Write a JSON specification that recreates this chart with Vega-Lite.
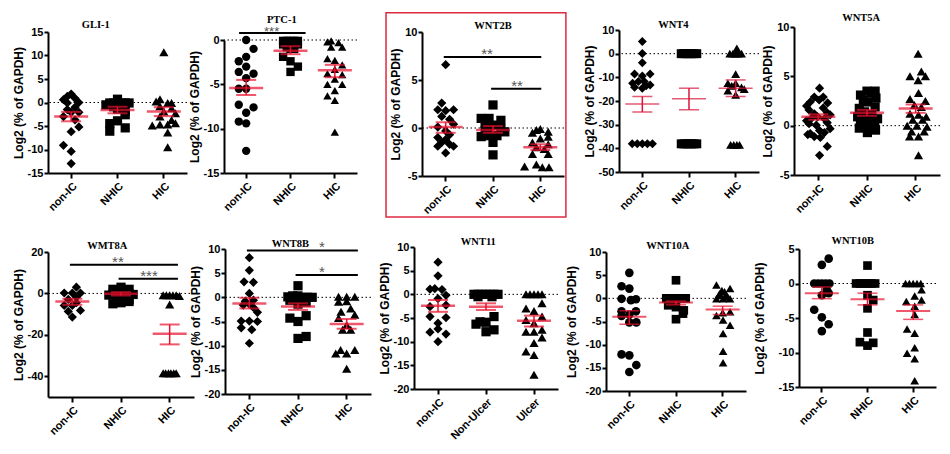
{
"$schema": "https://vega.github.io/schema/vega-lite/v6.json",
"background": "white",
"padding": {"left": 12, "top": 12, "right": 0, "bottom": 0},
"config": {
  "view": {"stroke": null},
  "axis": {"grid": false, "domainColor": "black", "domainWidth": 2, "tickColor": "black", "tickWidth": 2, "tickSize": 4, "labelColor": "black", "labelFont": "Liberation Sans", "labelFontSize": 11, "labelFontWeight": "bold", "labelPadding": 1, "titleColor": "black", "titleFont": "Liberation Sans", "titleFontSize": 12, "titleFontWeight": "bold", "titlePadding": 2, "labelOverlap": false},
  "axisX": {"labelAngle": -45, "labelAlign": "right", "labelBaseline": "top", "labelPadding": 2, "tickSize": 5, "bandPosition": 0.5},
  "axisY": {"labelExpr": "datum.value + ''", "labelOverlap": false, "labelFlush": false},
  "title": {"font": "Liberation Serif", "fontSize": 10.5, "fontWeight": "bold", "color": "black", "frame": "bounds", "anchor": "middle", "offset": 3}
},
"datasets": {
  "GLI1": [
    {"g":"non-IC","v":1.8,"s":0},{"g":"non-IC","v":1.3,"s":-1},{"g":"non-IC","v":0.9,"s":1},{"g":"non-IC","v":0.6,"s":-2},{"g":"non-IC","v":0,"s":2},{"g":"non-IC","v":-0.1,"s":-1},{"g":"non-IC","v":-1,"s":1},{"g":"non-IC","v":-1.5,"s":-1},{"g":"non-IC","v":-2.1,"s":0},{"g":"non-IC","v":-2.1,"s":2},{"g":"non-IC","v":-3,"s":-2},{"g":"non-IC","v":-3.7,"s":1},{"g":"non-IC","v":-5.2,"s":2},{"g":"non-IC","v":-6.2,"s":0},{"g":"non-IC","v":-9.1,"s":-2},{"g":"non-IC","v":-10.4,"s":0},{"g":"non-IC","v":-13,"s":0},
    {"g":"NHIC","v":0.7,"s":0},{"g":"NHIC","v":-0.1,"s":-2},{"g":"NHIC","v":-0.1,"s":-1},{"g":"NHIC","v":-0.1,"s":0},{"g":"NHIC","v":-0.1,"s":1},{"g":"NHIC","v":-0.1,"s":2},{"g":"NHIC","v":-0.1,"s":3},{"g":"NHIC","v":-0.5,"s":-3},{"g":"NHIC","v":-0.9,"s":-1},{"g":"NHIC","v":-0.9,"s":1},{"g":"NHIC","v":-1.4,"s":0},{"g":"NHIC","v":-1.9,"s":2},{"g":"NHIC","v":-2.6,"s":2},{"g":"NHIC","v":-3.9,"s":0},{"g":"NHIC","v":-4.5,"s":-2},{"g":"NHIC","v":-5.4,"s":2},{"g":"NHIC","v":-6.1,"s":-2},
    {"g":"HIC","v":10.7,"s":0},{"g":"HIC","v":0.7,"s":-1},{"g":"HIC","v":0.2,"s":-2},{"g":"HIC","v":-0.1,"s":1},{"g":"HIC","v":-0.1,"s":2},{"g":"HIC","v":-0.8,"s":-1},{"g":"HIC","v":-1.2,"s":2},{"g":"HIC","v":-1.9,"s":0},{"g":"HIC","v":-2.3,"s":3},{"g":"HIC","v":-3,"s":-1},{"g":"HIC","v":-3.7,"s":2},{"g":"HIC","v":-4.7,"s":-1},{"g":"HIC","v":-4.7,"s":1},{"g":"HIC","v":-4.9,"s":-3},{"g":"HIC","v":-4.4,"s":3},{"g":"HIC","v":-6.4,"s":1},{"g":"HIC","v":-9.5,"s":1}
  ],
  "GLI1_st": [{"g":"non-IC","mean":-3.0,"lo":-4.0,"hi":-2.0},{"g":"NHIC","mean":-1.6,"lo":-2.3,"hi":-0.9},{"g":"HIC","mean":-1.9,"lo":-2.9,"hi":-1.0}],
  "PTC1": [
    {"g":"non-IC","v":0,"s":0},{"g":"non-IC","v":-1.0,"s":2},{"g":"non-IC","v":-1.9,"s":0},{"g":"non-IC","v":-2.4,"s":-2},{"g":"non-IC","v":-3.0,"s":0},{"g":"non-IC","v":-3.6,"s":-2},{"g":"non-IC","v":-3.8,"s":2},{"g":"non-IC","v":-4.3,"s":0},{"g":"non-IC","v":-5.5,"s":-2},{"g":"non-IC","v":-5.5,"s":0},{"g":"non-IC","v":-7.3,"s":-2},{"g":"non-IC","v":-7.6,"s":2},{"g":"non-IC","v":-8.2,"s":0},{"g":"non-IC","v":-9.2,"s":-2},{"g":"non-IC","v":-9.4,"s":0},{"g":"non-IC","v":-12.5,"s":0},
    {"g":"NHIC","v":-0.1,"s":-2},{"g":"NHIC","v":-0.1,"s":-1},{"g":"NHIC","v":-0.1,"s":0},{"g":"NHIC","v":-0.1,"s":1},{"g":"NHIC","v":-0.1,"s":2},{"g":"NHIC","v":-0.5,"s":-2},{"g":"NHIC","v":-0.5,"s":-1},{"g":"NHIC","v":-0.5,"s":1},{"g":"NHIC","v":-0.5,"s":2},{"g":"NHIC","v":-1.0,"s":0},{"g":"NHIC","v":-1.0,"s":1},{"g":"NHIC","v":-0.8,"s":-1},{"g":"NHIC","v":-1.9,"s":-2},{"g":"NHIC","v":-2.4,"s":0},{"g":"NHIC","v":-3.0,"s":2},{"g":"NHIC","v":-3.6,"s":0},
    {"g":"HIC","v":-0.1,"s":-1},{"g":"HIC","v":-0.2,"s":-2},{"g":"HIC","v":-0.3,"s":1},{"g":"HIC","v":-0.8,"s":-1},{"g":"HIC","v":-0.8,"s":2},{"g":"HIC","v":-2.1,"s":-2},{"g":"HIC","v":-2.3,"s":0},{"g":"HIC","v":-2.8,"s":2},{"g":"HIC","v":-3.3,"s":0},{"g":"HIC","v":-3.8,"s":-2},{"g":"HIC","v":-3.9,"s":2},{"g":"HIC","v":-4.4,"s":0},{"g":"HIC","v":-5.0,"s":-2},{"g":"HIC","v":-5.0,"s":2},{"g":"HIC","v":-5.7,"s":0},{"g":"HIC","v":-6.3,"s":-2},{"g":"HIC","v":-6.8,"s":0},{"g":"HIC","v":-10.4,"s":0}
  ],
  "PTC1_st": [{"g":"non-IC","mean":-5.4,"lo":-6.2,"hi":-4.5},{"g":"NHIC","mean":-1.2,"lo":-1.6,"hi":-0.7},{"g":"HIC","mean":-3.4,"lo":-4.2,"hi":-2.8}],
  "PTC1_sig": [{"from":"non-IC","to":"NHIC","y":0.8,"label":"***","at":"NHIC","off":-5.1}],
  "WNT2B": [
    {"g":"non-IC","v":6.6,"s":0},{"g":"non-IC","v":2.6,"s":-1},{"g":"non-IC","v":1.9,"s":-2},{"g":"non-IC","v":1.8,"s":0},{"g":"non-IC","v":1.9,"s":2},{"g":"non-IC","v":1.2,"s":-1},{"g":"non-IC","v":0.9,"s":1},{"g":"non-IC","v":0.4,"s":2},{"g":"non-IC","v":0.1,"s":-2},{"g":"non-IC","v":-0.3,"s":0},{"g":"non-IC","v":-0.7,"s":1},{"g":"non-IC","v":-1.0,"s":-2},{"g":"non-IC","v":-1.2,"s":0},{"g":"non-IC","v":-1.5,"s":-1},{"g":"non-IC","v":-1.9,"s":-2},{"g":"non-IC","v":-1.7,"s":1},{"g":"non-IC","v":-1.9,"s":2},{"g":"non-IC","v":-2.6,"s":0},
    {"g":"NHIC","v":2.4,"s":0},{"g":"NHIC","v":1.0,"s":-3},{"g":"NHIC","v":1.0,"s":-1},{"g":"NHIC","v":0.8,"s":2},{"g":"NHIC","v":0.45,"s":-2},{"g":"NHIC","v":0.3,"s":1},{"g":"NHIC","v":0.1,"s":-1},{"g":"NHIC","v":-0.1,"s":2},{"g":"NHIC","v":-0.3,"s":-2},{"g":"NHIC","v":-0.4,"s":3},{"g":"NHIC","v":-0.8,"s":-1},{"g":"NHIC","v":-0.8,"s":1},{"g":"NHIC","v":-0.9,"s":-3},{"g":"NHIC","v":-1.5,"s":0},{"g":"NHIC","v":-2.8,"s":0},
    {"g":"HIC","v":-0.1,"s":0},{"g":"HIC","v":-0.2,"s":-1},{"g":"HIC","v":-0.5,"s":-2},{"g":"HIC","v":-0.4,"s":2},{"g":"HIC","v":-0.9,"s":2},{"g":"HIC","v":-1.1,"s":0},{"g":"HIC","v":-1.5,"s":-2},{"g":"HIC","v":-1.7,"s":2},{"g":"HIC","v":-2.0,"s":-1},{"g":"HIC","v":-2.2,"s":1},{"g":"HIC","v":-2.7,"s":-2},{"g":"HIC","v":-2.7,"s":2},{"g":"HIC","v":-4.0,"s":-4},{"g":"HIC","v":-3.8,"s":-1},{"g":"HIC","v":-4.1,"s":0.5},{"g":"HIC","v":-4.1,"s":2.2}
  ],
  "WNT2B_st": [{"g":"non-IC","mean":0.1,"lo":-0.5,"hi":0.6},{"g":"NHIC","mean":-0.2,"lo":-0.5,"hi":0.2},{"g":"HIC","mean":-2.0,"lo":-2.3,"hi":-1.7}],
  "WNT2B_sig": [{"from":"non-IC","to":"HIC","y":7.4,"label":"**","at":"NHIC","off":-1.5},{"from":"NHIC","to":"HIC","y":4.1,"label":"**","at":"NHIC","off":6.1}],
  "WNT4": [
    {"g":"non-IC","v":5.1,"s":0},{"g":"non-IC","v":0.1,"s":0},{"g":"non-IC","v":-3.8,"s":0},{"g":"non-IC","v":-8.6,"s":-2},{"g":"non-IC","v":-8.6,"s":2},{"g":"non-IC","v":-9.4,"s":0},{"g":"non-IC","v":-12.5,"s":-2.5},{"g":"non-IC","v":-11.8,"s":-1},{"g":"non-IC","v":-11.8,"s":0.5},{"g":"non-IC","v":-13.2,"s":2},{"g":"non-IC","v":-14.2,"s":-2},{"g":"non-IC","v":-14.6,"s":0},{"g":"non-IC","v":-13.6,"s":1},{"g":"non-IC","v":-38.1,"s":-2.6},{"g":"non-IC","v":-38.1,"s":-1.3},{"g":"non-IC","v":-38.1,"s":0},{"g":"non-IC","v":-38.1,"s":1.3},{"g":"non-IC","v":-38.1,"s":2.6},
    {"g":"NHIC","v":0,"s":-2},{"g":"NHIC","v":0,"s":-1.3},{"g":"NHIC","v":0,"s":-0.6},{"g":"NHIC","v":0,"s":0},{"g":"NHIC","v":0,"s":0.6},{"g":"NHIC","v":0,"s":1.3},{"g":"NHIC","v":0,"s":2},
    {"g":"NHIC","v":-38.1,"s":-2},{"g":"NHIC","v":-38.1,"s":-1.3},{"g":"NHIC","v":-38.1,"s":-0.6},{"g":"NHIC","v":-38.1,"s":0},{"g":"NHIC","v":-38.1,"s":0.6},{"g":"NHIC","v":-38.1,"s":1.3},{"g":"NHIC","v":-38.1,"s":2},
    {"g":"HIC","v":0,"s":-1.5},{"g":"HIC","v":0,"s":-0.7},{"g":"HIC","v":0,"s":0},{"g":"HIC","v":0,"s":0.7},{"g":"HIC","v":0,"s":1.5},{"g":"HIC","v":2.2,"s":0.3},{"g":"HIC","v":-8.6,"s":0},{"g":"HIC","v":-12.5,"s":-2},{"g":"HIC","v":-12.5,"s":0},{"g":"HIC","v":-13.6,"s":-1},{"g":"HIC","v":-14.2,"s":1.5},{"g":"HIC","v":-15,"s":2.2},{"g":"HIC","v":-15.6,"s":-2},{"g":"HIC","v":-17.4,"s":0},{"g":"HIC","v":-38.5,"s":-1.3},{"g":"HIC","v":-38.5,"s":-0.5},{"g":"HIC","v":-38.5,"s":0.3},{"g":"HIC","v":-38.5,"s":1}
  ],
  "WNT4_st": [{"g":"non-IC","mean":-21.3,"lo":-24.7,"hi":-18.1},{"g":"NHIC","mean":-19.1,"lo":-23.7,"hi":-14.6},{"g":"HIC","mean":-14.6,"lo":-18.1,"hi":-11.1}],
  "WNT5A": [
    {"g":"non-IC","v":3.8,"s":0.3},{"g":"non-IC","v":2.9,"s":-1},{"g":"non-IC","v":2.9,"s":1.2},{"g":"non-IC","v":2.4,"s":-2},{"g":"non-IC","v":2.3,"s":2.3},{"g":"non-IC","v":2.6,"s":0.2},{"g":"non-IC","v":1.6,"s":-2.3},{"g":"non-IC","v":1.8,"s":1.2},{"g":"non-IC","v":1.2,"s":-1},{"g":"non-IC","v":1.3,"s":2.2},{"g":"non-IC","v":0.7,"s":-1.8},{"g":"non-IC","v":0.9,"s":-0.2},{"g":"non-IC","v":0.7,"s":1.5},{"g":"non-IC","v":0.2,"s":-2.3},{"g":"non-IC","v":0.05,"s":-0.5},{"g":"non-IC","v":0.3,"s":2.2},{"g":"non-IC","v":-0.8,"s":-2},{"g":"non-IC","v":-0.5,"s":0.3},{"g":"non-IC","v":-0.7,"s":1.5},{"g":"non-IC","v":-1.1,"s":-1},{"g":"non-IC","v":-0.9,"s":-2.6},{"g":"non-IC","v":-1.2,"s":0.5},{"g":"non-IC","v":-2.1,"s":2.2},{"g":"non-IC","v":-3.0,"s":0.3},{"g":"non-IC","v":1.1,"s":2.9},{"g":"non-IC","v":0.5,"s":-2.9},{"g":"non-IC","v":-0.3,"s":2.9},{"g":"non-IC","v":2.0,"s":-2.9},
    {"g":"NHIC","v":3.5,"s":0},{"g":"NHIC","v":3.5,"s":2},{"g":"NHIC","v":3.1,"s":-1.6},{"g":"NHIC","v":2.8,"s":2.2},{"g":"NHIC","v":2.6,"s":-0.9},{"g":"NHIC","v":2.4,"s":0.1},{"g":"NHIC","v":1.75,"s":-1.9},{"g":"NHIC","v":1.9,"s":2},{"g":"NHIC","v":1.4,"s":-0.6},{"g":"NHIC","v":1.1,"s":1.2},{"g":"NHIC","v":0.9,"s":-2.3},{"g":"NHIC","v":0.7,"s":-0.9},{"g":"NHIC","v":0.7,"s":2.6},{"g":"NHIC","v":0.6,"s":0.8},{"g":"NHIC","v":0.25,"s":-1.6},{"g":"NHIC","v":0.1,"s":0.1},{"g":"NHIC","v":0.1,"s":1.9},{"g":"NHIC","v":-0.25,"s":-1.9},{"g":"NHIC","v":-0.45,"s":2.1},{"g":"NHIC","v":-0.7,"s":0.1},{"g":"NHIC","v":-0.3,"s":1.2},{"g":"NHIC","v":3.3,"s":1.1},
    {"g":"HIC","v":7.3,"s":0.6},{"g":"HIC","v":5.0,"s":-1.4},{"g":"HIC","v":5.5,"s":1.4},{"g":"HIC","v":5.0,"s":2.4},{"g":"HIC","v":4.6,"s":0.6},{"g":"HIC","v":3.3,"s":0.7},{"g":"HIC","v":2.7,"s":-1.4},{"g":"HIC","v":2.5,"s":2.4},{"g":"HIC","v":2.1,"s":-0.3},{"g":"HIC","v":1.9,"s":1.4},{"g":"HIC","v":1.2,"s":-1.4},{"g":"HIC","v":1.1,"s":0.7},{"g":"HIC","v":0.9,"s":2.6},{"g":"HIC","v":0.6,"s":-0.7},{"g":"HIC","v":0.6,"s":1.7},{"g":"HIC","v":0,"s":-2.1},{"g":"HIC","v":0,"s":0.3},{"g":"HIC","v":-0.1,"s":2.8},{"g":"HIC","v":-0.6,"s":-1},{"g":"HIC","v":-0.6,"s":2.1},{"g":"HIC","v":-1.1,"s":-1.5},{"g":"HIC","v":-1.1,"s":0.7},{"g":"HIC","v":-3.0,"s":0.7}
  ],
  "WNT5A_st": [{"g":"non-IC","mean":0.9,"lo":0.6,"hi":1.15},{"g":"NHIC","mean":1.3,"lo":1.0,"hi":1.6},{"g":"HIC","mean":1.75,"lo":1.3,"hi":2.15}],
  "WMT8A": [
    {"g":"non-IC","v":3.0,"s":1},{"g":"non-IC","v":0.2,"s":-2},{"g":"non-IC","v":0.2,"s":0},{"g":"non-IC","v":0.2,"s":2},{"g":"non-IC","v":-2.9,"s":-1},{"g":"non-IC","v":-1.8,"s":1},{"g":"non-IC","v":-5.8,"s":-2},{"g":"non-IC","v":-5.8,"s":0},{"g":"non-IC","v":-4.5,"s":1},{"g":"non-IC","v":-8.7,"s":-1},{"g":"non-IC","v":-8.2,"s":2},{"g":"non-IC","v":-11.4,"s":0},
    {"g":"NHIC","v":3,"s":0},{"g":"NHIC","v":2,"s":-2},{"g":"NHIC","v":2,"s":2},{"g":"NHIC","v":-0.2,"s":-2},{"g":"NHIC","v":0.5,"s":-1},{"g":"NHIC","v":0.5,"s":1},{"g":"NHIC","v":-0.2,"s":2},{"g":"NHIC","v":-1.8,"s":-1},{"g":"NHIC","v":-1.3,"s":0},{"g":"NHIC","v":-2.9,"s":2},{"g":"NHIC","v":-5,"s":-2},{"g":"NHIC","v":-4.5,"s":0},{"g":"NHIC","v":-3.9,"s":2},{"g":"NHIC","v":-0.8,"s":-3},{"g":"NHIC","v":-0.5,"s":3},
    {"g":"HIC","v":-0.9,"s":-1.6},{"g":"HIC","v":-0.9,"s":-0.8},{"g":"HIC","v":-0.9,"s":0},{"g":"HIC","v":-0.9,"s":0.8},{"g":"HIC","v":-0.9,"s":1.6},{"g":"HIC","v":-1.2,"s":2.4},{"g":"HIC","v":-5.3,"s":0},{"g":"HIC","v":-38.5,"s":-1.6},{"g":"HIC","v":-38.5,"s":-1},{"g":"HIC","v":-38.5,"s":-0.3},{"g":"HIC","v":-38.5,"s":0.3},{"g":"HIC","v":-38.5,"s":1},{"g":"HIC","v":-38.5,"s":1.6}
  ],
  "WMT8A_st": [{"g":"non-IC","mean":-3.9,"lo":-5.5,"hi":-2.6},{"g":"NHIC","mean":-0.2,"lo":-1.0,"hi":0.6},{"g":"HIC","mean":-19.5,"lo":-24.6,"hi":-15}],
  "WMT8A_sig": [{"from":"non-IC","to":"HIC","y":13.9,"label":"**","at":"NHIC","off":-0.75},{"from":"NHIC","to":"HIC","y":7.1,"label":"***","at":"NHIC","off":6.9}],
  "WNT8B": [
    {"g":"non-IC","v":8.2,"s":0},{"g":"non-IC","v":5.6,"s":0},{"g":"non-IC","v":3.2,"s":-1.3},{"g":"non-IC","v":3.1,"s":1},{"g":"non-IC","v":0.8,"s":0},{"g":"non-IC","v":-0.8,"s":-1},{"g":"non-IC","v":-0.6,"s":1},{"g":"non-IC","v":-1.6,"s":-1.5},{"g":"non-IC","v":-1.4,"s":0},{"g":"non-IC","v":-2.1,"s":1},{"g":"non-IC","v":-3.1,"s":2},{"g":"non-IC","v":-4.9,"s":-2},{"g":"non-IC","v":-4.9,"s":0},{"g":"non-IC","v":-5.0,"s":2},{"g":"non-IC","v":-6.3,"s":-2},{"g":"non-IC","v":-6.7,"s":0.6},{"g":"non-IC","v":-9.5,"s":0},
    {"g":"NHIC","v":2.4,"s":0},{"g":"NHIC","v":0.1,"s":-2.5},{"g":"NHIC","v":0.3,"s":-1.3},{"g":"NHIC","v":0.3,"s":0},{"g":"NHIC","v":0,"s":1.2},{"g":"NHIC","v":0,"s":2.4},{"g":"NHIC","v":0,"s":3.5},{"g":"NHIC","v":-0.6,"s":-2},{"g":"NHIC","v":-0.6,"s":1},{"g":"NHIC","v":-1.4,"s":0},{"g":"NHIC","v":-1.0,"s":2},{"g":"NHIC","v":-4.3,"s":-2},{"g":"NHIC","v":-3.8,"s":2},{"g":"NHIC","v":-5.0,"s":0},{"g":"NHIC","v":-8.5,"s":0},{"g":"NHIC","v":-8.1,"s":2},
    {"g":"HIC","v":0.1,"s":-2},{"g":"HIC","v":0.1,"s":0},{"g":"HIC","v":0.1,"s":2},{"g":"HIC","v":-0.9,"s":-2},{"g":"HIC","v":-0.8,"s":0},{"g":"HIC","v":-2.3,"s":1},{"g":"HIC","v":-3,"s":-1.4},{"g":"HIC","v":-3.6,"s":2},{"g":"HIC","v":-4.3,"s":-2},{"g":"HIC","v":-5.7,"s":0},{"g":"HIC","v":-6.7,"s":-1},{"g":"HIC","v":-6.7,"s":1},{"g":"HIC","v":-10.9,"s":-1.5},{"g":"HIC","v":-11.6,"s":-2.7},{"g":"HIC","v":-11.6,"s":0},{"g":"HIC","v":-10.9,"s":2},{"g":"HIC","v":-14.8,"s":0}
  ],
  "WNT8B_st": [{"g":"non-IC","mean":-1.25,"lo":-2.3,"hi":-0.1},{"g":"NHIC","mean":-1.9,"lo":-2.6,"hi":-1.25},{"g":"HIC","mean":-5.5,"lo":-6.5,"hi":-4.5}],
  "WNT8B_sig": [{"from":"non-IC","to":"HIC","y":9.7,"label":"*","at":"NHIC","off":5.9},{"from":"NHIC","to":"HIC","y":4.6,"label":"*","at":"NHIC","off":5.9}],
  "WNT11": [
    {"g":"non-IC","v":6.8,"s":0},{"g":"non-IC","v":3.9,"s":0},{"g":"non-IC","v":1.1,"s":-2},{"g":"non-IC","v":1.2,"s":-0.8},{"g":"non-IC","v":1.0,"s":1},{"g":"non-IC","v":-0.2,"s":2},{"g":"non-IC","v":-0.9,"s":0},{"g":"non-IC","v":-2.6,"s":-2},{"g":"non-IC","v":-2.3,"s":2},{"g":"non-IC","v":-4.7,"s":-2},{"g":"non-IC","v":-4.9,"s":2},{"g":"non-IC","v":-6.1,"s":0},{"g":"non-IC","v":-7.3,"s":0},{"g":"non-IC","v":-8.0,"s":-2},{"g":"non-IC","v":-8.4,"s":2},{"g":"non-IC","v":-10.0,"s":0},
    {"g":"Non-Ulcer","v":0,"s":-3},{"g":"Non-Ulcer","v":0,"s":-2},{"g":"Non-Ulcer","v":0,"s":-1},{"g":"Non-Ulcer","v":0,"s":0},{"g":"Non-Ulcer","v":0,"s":1},{"g":"Non-Ulcer","v":0,"s":2},{"g":"Non-Ulcer","v":0,"s":3},{"g":"Non-Ulcer","v":-0.5,"s":-2},{"g":"Non-Ulcer","v":-0.5,"s":1.5},{"g":"Non-Ulcer","v":-4.7,"s":2},{"g":"Non-Ulcer","v":-5.8,"s":-1.5},{"g":"Non-Ulcer","v":-6.3,"s":-2.5},{"g":"Non-Ulcer","v":-5.9,"s":0},{"g":"Non-Ulcer","v":-7.9,"s":0},{"g":"Non-Ulcer","v":-7.5,"s":2},
    {"g":"Ulcer","v":0,"s":-2},{"g":"Ulcer","v":0,"s":-1},{"g":"Ulcer","v":0,"s":0},{"g":"Ulcer","v":0,"s":1},{"g":"Ulcer","v":0,"s":2},{"g":"Ulcer","v":-1.9,"s":2},{"g":"Ulcer","v":-3.0,"s":-2},{"g":"Ulcer","v":-3.5,"s":0},{"g":"Ulcer","v":-4.7,"s":2},{"g":"Ulcer","v":-5.4,"s":-2},{"g":"Ulcer","v":-6.1,"s":0},{"g":"Ulcer","v":-7.9,"s":-2},{"g":"Ulcer","v":-7.9,"s":0},{"g":"Ulcer","v":-7.5,"s":2},{"g":"Ulcer","v":-9.1,"s":2},{"g":"Ulcer","v":-10.3,"s":0},{"g":"Ulcer","v":-12.1,"s":-2},{"g":"Ulcer","v":-12.8,"s":0},{"g":"Ulcer","v":-17.0,"s":0}
  ],
  "WNT11_st": [{"g":"non-IC","mean":-2.4,"lo":-3.7,"hi":-1.2},{"g":"Non-Ulcer","mean":-2.6,"lo":-3.3,"hi":-1.9},{"g":"Ulcer","mean":-5.6,"lo":-6.8,"hi":-4.5}],
  "WNT10A": [
    {"g":"non-IC","v":5.5,"s":0},{"g":"non-IC","v":2.6,"s":-2},{"g":"non-IC","v":2.1,"s":0},{"g":"non-IC","v":-0.1,"s":-2},{"g":"non-IC","v":-0.4,"s":0.4},{"g":"non-IC","v":-0.2,"s":1.7},{"g":"non-IC","v":-2.8,"s":-2},{"g":"non-IC","v":-2.8,"s":1.7},{"g":"non-IC","v":-3.8,"s":-2},{"g":"non-IC","v":-3.5,"s":0},{"g":"non-IC","v":-5.2,"s":0},{"g":"non-IC","v":-5.2,"s":1.8},{"g":"non-IC","v":-12.1,"s":-2},{"g":"non-IC","v":-12.3,"s":0},{"g":"non-IC","v":-14.4,"s":1.8},{"g":"non-IC","v":-15.9,"s":0},
    {"g":"NHIC","v":3.9,"s":0},{"g":"NHIC","v":0,"s":-2.5},{"g":"NHIC","v":0,"s":-1.5},{"g":"NHIC","v":0,"s":-0.5},{"g":"NHIC","v":0,"s":0.5},{"g":"NHIC","v":0,"s":1.5},{"g":"NHIC","v":0,"s":2.5},{"g":"NHIC","v":-1.5,"s":-2},{"g":"NHIC","v":-1.9,"s":0},{"g":"NHIC","v":-2.6,"s":2},{"g":"NHIC","v":-3.3,"s":1.8},{"g":"NHIC","v":-4.5,"s":0},
    {"g":"HIC","v":2.9,"s":-1.6},{"g":"HIC","v":2.1,"s":1.9},{"g":"HIC","v":1.7,"s":-0.2},{"g":"HIC","v":1.4,"s":0.5},{"g":"HIC","v":1.0,"s":-0.8},{"g":"HIC","v":0.6,"s":-1},{"g":"HIC","v":0.6,"s":0.8},{"g":"HIC","v":0.3,"s":1.3},{"g":"HIC","v":-0.1,"s":-1.6},{"g":"HIC","v":-0.1,"s":0.1},{"g":"HIC","v":-0.1,"s":1.9},{"g":"HIC","v":-3.7,"s":-1.6},{"g":"HIC","v":-3.1,"s":0},{"g":"HIC","v":-2.9,"s":1.9},{"g":"HIC","v":-4.7,"s":0.1},{"g":"HIC","v":-5.8,"s":1.9},{"g":"HIC","v":-7.6,"s":0.1},{"g":"HIC","v":-11.4,"s":0.1},{"g":"HIC","v":-13.9,"s":0.1}
  ],
  "WNT10A_st": [{"g":"non-IC","mean":-4.0,"lo":-5.6,"hi":-2.7},{"g":"NHIC","mean":-0.9,"lo":-1.4,"hi":-0.6},{"g":"HIC","mean":-2.4,"lo":-3.5,"hi":-1.7}],
  "WNT10B": [
    {"g":"non-IC","v":3.6,"s":1.8},{"g":"non-IC","v":2.7,"s":0},{"g":"non-IC","v":0,"s":-2},{"g":"non-IC","v":0,"s":-1},{"g":"non-IC","v":0,"s":0},{"g":"non-IC","v":0,"s":1},{"g":"non-IC","v":0,"s":2},{"g":"non-IC","v":-0.9,"s":1.3},{"g":"non-IC","v":-1.7,"s":0},{"g":"non-IC","v":-1.4,"s":1.8},{"g":"non-IC","v":-3.8,"s":-2},{"g":"non-IC","v":-4.9,"s":0},{"g":"non-IC","v":-5.9,"s":1.8},{"g":"non-IC","v":-6.9,"s":0},
    {"g":"NHIC","v":2.6,"s":0},{"g":"NHIC","v":0,"s":-3},{"g":"NHIC","v":0,"s":-2},{"g":"NHIC","v":0,"s":-1},{"g":"NHIC","v":0,"s":0},{"g":"NHIC","v":0,"s":1},{"g":"NHIC","v":0,"s":2},{"g":"NHIC","v":-1.7,"s":0},{"g":"NHIC","v":-2.4,"s":1.5},{"g":"NHIC","v":-3.6,"s":0},{"g":"NHIC","v":-7.1,"s":0},{"g":"NHIC","v":-8.5,"s":-2},{"g":"NHIC","v":-9.0,"s":0},{"g":"NHIC","v":-8.6,"s":1.5},
    {"g":"HIC","v":0,"s":-2},{"g":"HIC","v":0,"s":-1},{"g":"HIC","v":0,"s":0},{"g":"HIC","v":0,"s":1},{"g":"HIC","v":0,"s":2},{"g":"HIC","v":-0.9,"s":2.2},{"g":"HIC","v":-1.8,"s":0.4},{"g":"HIC","v":-2.6,"s":-1.8},{"g":"HIC","v":-2.4,"s":2.2},{"g":"HIC","v":-3.3,"s":0.4},{"g":"HIC","v":-4.5,"s":0.4},{"g":"HIC","v":-6.6,"s":-1.6},{"g":"HIC","v":-7.2,"s":0.4},{"g":"HIC","v":-9.3,"s":0.4},{"g":"HIC","v":-10.1,"s":-1.6},{"g":"HIC","v":-10.9,"s":0.4},{"g":"HIC","v":-14.1,"s":0.4}
  ],
  "WNT10B_st": [{"g":"non-IC","mean":-1.4,"lo":-2.2,"hi":-0.5},{"g":"NHIC","mean":-2.3,"lo":-3.1,"hi":-1.4},{"g":"HIC","mean":-4.0,"lo":-5.2,"hi":-3.1}]
},
"spacing": 17,
"resolve": {"scale": {"shape": "independent", "xOffset": "independent"}},
"vconcat": [
 {"spacing": 16, "resolve": {"scale": {"shape": "independent", "xOffset": "independent"}}, "hconcat": [
  {"spacing": 27, "resolve": {"scale": {"shape": "independent", "xOffset": "independent"}}, "hconcat": [
  {"spacing": 0, "resolve": {"scale": {"shape": "independent", "xOffset": "independent"}}, "hconcat": [
   {"width": 139, "height": 146, "title": {"text": "GLI-1", "dx": -4, "offset": -4},
    "layer": [
     {"data": {"values": [{}]}, "mark": {"type": "rule", "color": "black", "strokeWidth": 1, "strokeDash": [1.5, 2.5]}, "encoding": {"y": {"datum": 0}}},
     {"data": {"name": "GLI1"}, "mark": {"type": "point", "filled": true, "opacity": 1, "color": "black", "size": 85},
      "encoding": {"x": {"field": "g", "type": "nominal", "scale": {"type": "band", "domain": ["non-IC","NHIC","HIC"], "paddingInner": 0, "paddingOuter": 0}, "axis": {"title": null}},
       "xOffset": {"field": "s", "type": "quantitative", "scale": {"domain": [-6, 6]}},
       "y": {"field": "v", "type": "quantitative", "scale": {"domain": [-15, 15], "range": [146, 5], "nice": false, "zero": false}, "axis": {"values": [-15,-10,-5,0,5,10,15], "tickCount": 20, "labelOverlap": false, "title": "Log2 (%  of GAPDH)"}},
       "shape": {"field": "g", "type": "nominal", "scale": {"domain": ["non-IC","NHIC","HIC"], "range": ["diamond","square","triangle-up"]}, "legend": null}}},
     {"data": {"name": "GLI1_st"}, "mark": {"type": "tick", "color": "#e8112d", "thickness": 2.5, "size": 34}, "encoding": {"x": {"field": "g", "type": "nominal"}, "y": {"field": "mean", "type": "quantitative"}}},
     {"data": {"name": "GLI1_st"}, "mark": {"type": "rule", "color": "#e8112d", "strokeWidth": 1.5}, "encoding": {"x": {"field": "g", "type": "nominal"}, "y": {"field": "lo", "type": "quantitative"}, "y2": {"field": "hi"}}},
     {"data": {"name": "GLI1_st"}, "mark": {"type": "tick", "color": "#e8112d", "thickness": 2, "size": 20}, "encoding": {"x": {"field": "g", "type": "nominal"}, "y": {"field": "lo", "type": "quantitative"}}},
     {"data": {"name": "GLI1_st"}, "mark": {"type": "tick", "color": "#e8112d", "thickness": 2, "size": 20}, "encoding": {"x": {"field": "g", "type": "nominal"}, "y": {"field": "hi", "type": "quantitative"}}}
    ]},
   {"width": 133, "height": 146, "title": {"text": "PTC-1", "dx": 9, "offset": 0.5},
    "layer": [
     {"data": {"values": [{}]}, "mark": {"type": "rule", "color": "black", "strokeWidth": 1, "strokeDash": [1.5, 2.5]}, "encoding": {"y": {"datum": 0}}},
     {"data": {"name": "PTC1"}, "mark": {"type": "point", "filled": true, "opacity": 1, "color": "black", "size": 70},
      "encoding": {"x": {"field": "g", "type": "nominal", "scale": {"type": "band", "domain": ["non-IC","NHIC","HIC"], "paddingInner": 0, "paddingOuter": 0}, "axis": {"title": null}},
       "xOffset": {"field": "s", "type": "quantitative", "scale": {"domain": [-6, 6]}},
       "y": {"field": "v", "type": "quantitative", "scale": {"domain": [-15, 0], "range": [146, 13], "nice": false, "zero": false}, "axis": {"values": [-15,-10,-5,0], "tickCount": 20, "labelOverlap": false, "title": "Log2 (% of GAPDH)"}},
       "shape": {"field": "g", "type": "nominal", "scale": {"domain": ["non-IC","NHIC","HIC"], "range": ["circle","square","triangle-up"]}, "legend": null}}},
     {"data": {"name": "PTC1_st"}, "mark": {"type": "tick", "color": "#e8112d", "thickness": 2.5, "size": 34}, "encoding": {"x": {"field": "g", "type": "nominal"}, "y": {"field": "mean", "type": "quantitative"}}},
     {"data": {"name": "PTC1_st"}, "mark": {"type": "rule", "color": "#e8112d", "strokeWidth": 1.5}, "encoding": {"x": {"field": "g", "type": "nominal"}, "y": {"field": "lo", "type": "quantitative"}, "y2": {"field": "hi"}}},
     {"data": {"name": "PTC1_st"}, "mark": {"type": "tick", "color": "#e8112d", "thickness": 2, "size": 20}, "encoding": {"x": {"field": "g", "type": "nominal"}, "y": {"field": "lo", "type": "quantitative"}}},
     {"data": {"name": "PTC1_st"}, "mark": {"type": "tick", "color": "#e8112d", "thickness": 2, "size": 20}, "encoding": {"x": {"field": "g", "type": "nominal"}, "y": {"field": "hi", "type": "quantitative"}}},
     {"data": {"name": "PTC1_sig"}, "mark": {"type": "rule", "color": "black", "strokeWidth": 2, "clip": false}, "encoding": {"x": {"field": "from", "type": "nominal", "bandPosition": 0.34}, "x2": {"field": "to", "bandPosition": 0.84}, "y": {"field": "y", "type": "quantitative"}}},
     {"data": {"name": "PTC1_sig"}, "mark": {"type": "text", "font": "Liberation Sans", "fontSize": 13, "color": "#555555", "baseline": "alphabetic", "dy": 3, "clip": false}, "encoding": {"x": {"field": "at", "type": "nominal"}, "xOffset": {"field": "off", "type": "quantitative", "scale": {"domain": [-6, 6]}}, "y": {"field": "y", "type": "quantitative"}, "text": {"field": "label"}}}
    ]}
  ]},
  {"width": 142, "height": 149, "title": {"text": "WNT2B", "frame": "group", "offset": -19},
   "layer": [
    {"data": {"values": [{}]}, "mark": {"type": "rect", "fillOpacity": 0, "stroke": "#de2a40", "strokeWidth": 1.5, "clip": false}, "encoding": {"x": {"datum": "non-IC", "bandPosition": -0.76}, "x2": {"datum": "HIC", "bandPosition": 1.04}, "y": {"datum": 12}, "y2": {"datum": -9.27}}},
    {"data": {"values": [{}]}, "mark": {"type": "rule", "color": "black", "strokeWidth": 1, "strokeDash": [1.5, 2.5]}, "encoding": {"y": {"datum": 0}}},
    {"data": {"name": "WNT2B"}, "mark": {"type": "point", "filled": true, "opacity": 1, "color": "black", "size": 85},
     "encoding": {"x": {"field": "g", "type": "nominal", "scale": {"type": "band", "domain": ["non-IC","NHIC","HIC"], "paddingInner": 0, "paddingOuter": 0}, "axis": {"title": null}},
      "xOffset": {"field": "s", "type": "quantitative", "scale": {"domain": [-6, 6]}},
      "y": {"field": "v", "type": "quantitative", "scale": {"domain": [-5, 10], "range": [149, 5], "nice": false, "zero": false}, "axis": {"values": [-5,0,5,10], "tickCount": 20, "labelOverlap": false, "title": "Log2 (% of GAPDH)"}},
      "shape": {"field": "g", "type": "nominal", "scale": {"domain": ["non-IC","NHIC","HIC"], "range": ["diamond","square","triangle-up"]}, "legend": null}}},
    {"data": {"name": "WNT2B_st"}, "mark": {"type": "tick", "color": "#e8112d", "thickness": 2.5, "size": 34}, "encoding": {"x": {"field": "g", "type": "nominal"}, "y": {"field": "mean", "type": "quantitative"}}},
    {"data": {"name": "WNT2B_st"}, "mark": {"type": "rule", "color": "#e8112d", "strokeWidth": 1.5}, "encoding": {"x": {"field": "g", "type": "nominal"}, "y": {"field": "lo", "type": "quantitative"}, "y2": {"field": "hi"}}},
    {"data": {"name": "WNT2B_st"}, "mark": {"type": "tick", "color": "#e8112d", "thickness": 2, "size": 20}, "encoding": {"x": {"field": "g", "type": "nominal"}, "y": {"field": "lo", "type": "quantitative"}}},
    {"data": {"name": "WNT2B_st"}, "mark": {"type": "tick", "color": "#e8112d", "thickness": 2, "size": 20}, "encoding": {"x": {"field": "g", "type": "nominal"}, "y": {"field": "hi", "type": "quantitative"}}},
    {"data": {"name": "WNT2B_sig"}, "mark": {"type": "rule", "color": "black", "strokeWidth": 2, "clip": false}, "encoding": {"x": {"field": "from", "type": "nominal", "bandPosition": 0.46}, "x2": {"field": "to", "bandPosition": 0.52}, "y": {"field": "y", "type": "quantitative"}}},
    {"data": {"name": "WNT2B_sig"}, "mark": {"type": "text", "font": "Liberation Sans", "fontSize": 15, "color": "#555555", "baseline": "alphabetic", "dy": 2, "clip": false}, "encoding": {"x": {"field": "at", "type": "nominal"}, "xOffset": {"field": "off", "type": "quantitative", "scale": {"domain": [-6, 6]}}, "y": {"field": "y", "type": "quantitative"}, "text": {"field": "label"}}}
   ]}
  ]},
  {"spacing": 1, "resolve": {"scale": {"shape": "independent", "xOffset": "independent"}}, "hconcat": [
   {"width": 140, "height": 145, "title": {"text": "WNT4", "dx": 2, "offset": -6.5},
    "layer": [
     {"data": {"values": [{}]}, "mark": {"type": "rule", "color": "black", "strokeWidth": 1, "strokeDash": [1.5, 2.5]}, "encoding": {"y": {"datum": 0}}},
     {"data": {"name": "WNT4"}, "mark": {"type": "point", "filled": true, "opacity": 1, "color": "black", "size": 80},
      "encoding": {"x": {"field": "g", "type": "nominal", "scale": {"type": "band", "domain": ["non-IC","NHIC","HIC"], "paddingInner": 0, "paddingOuter": 0}, "axis": {"title": null}},
       "xOffset": {"field": "s", "type": "quantitative", "scale": {"domain": [-6, 6]}},
       "y": {"field": "v", "type": "quantitative", "scale": {"domain": [-50, 10], "range": [145, 3], "nice": false, "zero": false}, "axis": {"values": [-50,-40,-30,-20,-10,0,10], "tickCount": 20, "labelOverlap": false, "title": "Log2 (%  of GAPDH)"}},
       "shape": {"field": "g", "type": "nominal", "scale": {"domain": ["non-IC","NHIC","HIC"], "range": ["diamond","square","triangle-up"]}, "legend": null}}},
     {"data": {"name": "WNT4_st"}, "mark": {"type": "tick", "color": "#d8143a", "thickness": 1.5, "size": 34}, "encoding": {"x": {"field": "g", "type": "nominal"}, "y": {"field": "mean", "type": "quantitative"}}},
     {"data": {"name": "WNT4_st"}, "mark": {"type": "rule", "color": "#d8143a", "strokeWidth": 1.5}, "encoding": {"x": {"field": "g", "type": "nominal"}, "y": {"field": "lo", "type": "quantitative"}, "y2": {"field": "hi"}}},
     {"data": {"name": "WNT4_st"}, "mark": {"type": "tick", "color": "#d8143a", "thickness": 1.5, "size": 20}, "encoding": {"x": {"field": "g", "type": "nominal"}, "y": {"field": "lo", "type": "quantitative"}}},
     {"data": {"name": "WNT4_st"}, "mark": {"type": "tick", "color": "#d8143a", "thickness": 1.5, "size": 20}, "encoding": {"x": {"field": "g", "type": "nominal"}, "y": {"field": "hi", "type": "quantitative"}}}
    ]},
   {"width": 146, "height": 148, "title": {"text": "WNT5A", "dx": 10, "offset": -2},
    "layer": [
     {"data": {"values": [{}]}, "mark": {"type": "rule", "color": "black", "strokeWidth": 1, "strokeDash": [1.5, 2.5]}, "encoding": {"y": {"datum": 0}}},
     {"data": {"name": "WNT5A"}, "mark": {"type": "point", "filled": true, "opacity": 1, "color": "black", "size": 85},
      "encoding": {"x": {"field": "g", "type": "nominal", "scale": {"type": "band", "domain": ["non-IC","NHIC","HIC"], "paddingInner": 0, "paddingOuter": 0}, "axis": {"title": null}},
       "xOffset": {"field": "s", "type": "quantitative", "scale": {"domain": [-6, 6]}},
       "y": {"field": "v", "type": "quantitative", "scale": {"domain": [-5, 10], "range": [148, 0], "nice": false, "zero": false}, "axis": {"values": [-5,0,5,10], "tickCount": 20, "labelOverlap": false, "title": "Log2 (%  of GAPDH)"}},
       "shape": {"field": "g", "type": "nominal", "scale": {"domain": ["non-IC","NHIC","HIC"], "range": ["diamond","square","triangle-up"]}, "legend": null}}},
     {"data": {"name": "WNT5A_st"}, "mark": {"type": "tick", "color": "#e8112d", "thickness": 2.5, "size": 34}, "encoding": {"x": {"field": "g", "type": "nominal"}, "y": {"field": "mean", "type": "quantitative"}}},
     {"data": {"name": "WNT5A_st"}, "mark": {"type": "rule", "color": "#e8112d", "strokeWidth": 1.5}, "encoding": {"x": {"field": "g", "type": "nominal"}, "y": {"field": "lo", "type": "quantitative"}, "y2": {"field": "hi"}}},
     {"data": {"name": "WNT5A_st"}, "mark": {"type": "tick", "color": "#e8112d", "thickness": 2, "size": 20}, "encoding": {"x": {"field": "g", "type": "nominal"}, "y": {"field": "lo", "type": "quantitative"}}},
     {"data": {"name": "WNT5A_st"}, "mark": {"type": "tick", "color": "#e8112d", "thickness": 2, "size": 20}, "encoding": {"x": {"field": "g", "type": "nominal"}, "y": {"field": "hi", "type": "quantitative"}}}
    ]}
  ]}
 ]},
 {"spacing": 6, "resolve": {"scale": {"shape": "independent", "xOffset": "independent"}}, "hconcat": [
  {"spacing": -6, "resolve": {"scale": {"shape": "independent", "xOffset": "independent"}}, "hconcat": [
   {"width": 146, "height": 150, "title": {"text": "WMT8A", "dx": 4, "offset": -5},
    "layer": [
     {"data": {"values": [{}]}, "mark": {"type": "rule", "color": "black", "strokeWidth": 1, "strokeDash": [1.5, 2.5]}, "encoding": {"y": {"datum": 0}}},
     {"data": {"name": "WMT8A"}, "mark": {"type": "point", "filled": true, "opacity": 1, "color": "black", "size": 85},
      "encoding": {"x": {"field": "g", "type": "nominal", "scale": {"type": "band", "domain": ["non-IC","NHIC","HIC"], "paddingInner": 0, "paddingOuter": 0}, "axis": {"title": null}},
       "xOffset": {"field": "s", "type": "quantitative", "scale": {"domain": [-6, 6]}},
       "y": {"field": "v", "type": "quantitative", "scale": {"domain": [-50, 20], "range": [150, 5], "nice": false, "zero": false}, "axis": {"values": [-40,-20,0,20], "tickCount": 20, "labelOverlap": false, "title": "Log2 (% of GAPDH)"}},
       "shape": {"field": "g", "type": "nominal", "scale": {"domain": ["non-IC","NHIC","HIC"], "range": ["diamond","square","triangle-up"]}, "legend": null}}},
     {"data": {"name": "WMT8A_st"}, "mark": {"type": "tick", "color": "#e8112d", "thickness": 2.5, "size": 34}, "encoding": {"x": {"field": "g", "type": "nominal"}, "y": {"field": "mean", "type": "quantitative"}}},
     {"data": {"name": "WMT8A_st"}, "mark": {"type": "rule", "color": "#e8112d", "strokeWidth": 1.5}, "encoding": {"x": {"field": "g", "type": "nominal"}, "y": {"field": "lo", "type": "quantitative"}, "y2": {"field": "hi"}}},
     {"data": {"name": "WMT8A_st"}, "mark": {"type": "tick", "color": "#e8112d", "thickness": 2, "size": 20}, "encoding": {"x": {"field": "g", "type": "nominal"}, "y": {"field": "lo", "type": "quantitative"}}},
     {"data": {"name": "WMT8A_st"}, "mark": {"type": "tick", "color": "#e8112d", "thickness": 2, "size": 20}, "encoding": {"x": {"field": "g", "type": "nominal"}, "y": {"field": "hi", "type": "quantitative"}}},
     {"data": {"name": "WMT8A_sig"}, "mark": {"type": "rule", "color": "black", "strokeWidth": 2, "clip": false}, "encoding": {"x": {"field": "from", "type": "nominal", "bandPosition": 0.45}, "x2": {"field": "to", "bandPosition": 0.67}, "y": {"field": "y", "type": "quantitative"}}},
     {"data": {"name": "WMT8A_sig"}, "mark": {"type": "text", "font": "Liberation Sans", "fontSize": 15, "color": "#555555", "baseline": "alphabetic", "dy": 2, "clip": false}, "encoding": {"x": {"field": "at", "type": "nominal"}, "xOffset": {"field": "off", "type": "quantitative", "scale": {"domain": [-6, 6]}}, "y": {"field": "y", "type": "quantitative"}, "text": {"field": "label"}}}
    ]},
   {"width": 146, "height": 147, "title": {"text": "WNT8B", "dx": 10, "offset": -9},
    "layer": [
     {"data": {"values": [{}]}, "mark": {"type": "rule", "color": "black", "strokeWidth": 1, "strokeDash": [1.5, 2.5]}, "encoding": {"y": {"datum": 0}}},
     {"data": {"name": "WNT8B"}, "mark": {"type": "point", "filled": true, "opacity": 1, "color": "black", "size": 85},
      "encoding": {"x": {"field": "g", "type": "nominal", "scale": {"type": "band", "domain": ["non-IC","NHIC","HIC"], "paddingInner": 0, "paddingOuter": 0}, "axis": {"title": null}},
       "xOffset": {"field": "s", "type": "quantitative", "scale": {"domain": [-6, 6]}},
       "y": {"field": "v", "type": "quantitative", "scale": {"domain": [-20, 10], "range": [147, 2], "nice": false, "zero": false}, "axis": {"values": [-20,-15,-10,-5,0,5,10], "tickCount": 20, "labelOverlap": false, "title": "Log2 (% of GAPDH)"}},
       "shape": {"field": "g", "type": "nominal", "scale": {"domain": ["non-IC","NHIC","HIC"], "range": ["diamond","square","triangle-up"]}, "legend": null}}},
     {"data": {"name": "WNT8B_st"}, "mark": {"type": "tick", "color": "#e8112d", "thickness": 2.5, "size": 34}, "encoding": {"x": {"field": "g", "type": "nominal"}, "y": {"field": "mean", "type": "quantitative"}}},
     {"data": {"name": "WNT8B_st"}, "mark": {"type": "rule", "color": "#e8112d", "strokeWidth": 1.5}, "encoding": {"x": {"field": "g", "type": "nominal"}, "y": {"field": "lo", "type": "quantitative"}, "y2": {"field": "hi"}}},
     {"data": {"name": "WNT8B_st"}, "mark": {"type": "tick", "color": "#e8112d", "thickness": 2, "size": 20}, "encoding": {"x": {"field": "g", "type": "nominal"}, "y": {"field": "lo", "type": "quantitative"}}},
     {"data": {"name": "WNT8B_st"}, "mark": {"type": "tick", "color": "#e8112d", "thickness": 2, "size": 20}, "encoding": {"x": {"field": "g", "type": "nominal"}, "y": {"field": "hi", "type": "quantitative"}}},
     {"data": {"name": "WNT8B_sig"}, "mark": {"type": "rule", "color": "black", "strokeWidth": 2, "clip": false}, "encoding": {"x": {"field": "from", "type": "nominal", "bandPosition": 0.45}, "x2": {"field": "to", "bandPosition": 0.73}, "y": {"field": "y", "type": "quantitative"}}},
     {"data": {"name": "WNT8B_sig"}, "mark": {"type": "text", "font": "Liberation Sans", "fontSize": 15, "color": "#555555", "baseline": "alphabetic", "dy": 2, "clip": false}, "encoding": {"x": {"field": "at", "type": "nominal"}, "xOffset": {"field": "off", "type": "quantitative", "scale": {"domain": [-6, 6]}}, "y": {"field": "y", "type": "quantitative"}, "text": {"field": "label"}}}
    ]}
  ]},
  {"width": 144, "height": 142, "title": {"text": "WNT11", "dx": 10, "offset": -6},
   "layer": [
    {"data": {"values": [{}]}, "mark": {"type": "rule", "color": "black", "strokeWidth": 1, "strokeDash": [1.5, 2.5]}, "encoding": {"y": {"datum": 0}}},
    {"data": {"name": "WNT11"}, "mark": {"type": "point", "filled": true, "opacity": 1, "color": "black", "size": 85},
     "encoding": {"x": {"field": "g", "type": "nominal", "scale": {"type": "band", "domain": ["non-IC","Non-Ulcer","Ulcer"], "paddingInner": 0, "paddingOuter": 0}, "axis": {"title": null}},
      "xOffset": {"field": "s", "type": "quantitative", "scale": {"domain": [-6, 6]}},
      "y": {"field": "v", "type": "quantitative", "scale": {"domain": [-20, 10], "range": [142, 0], "nice": false, "zero": false}, "axis": {"values": [-20,-15,-10,-5,0,5,10], "tickCount": 20, "labelOverlap": false, "title": "Log2 (% of GAPDH)"}},
      "shape": {"field": "g", "type": "nominal", "scale": {"domain": ["non-IC","Non-Ulcer","Ulcer"], "range": ["diamond","square","triangle-up"]}, "legend": null}}},
    {"data": {"name": "WNT11_st"}, "mark": {"type": "tick", "color": "#e8112d", "thickness": 2.5, "size": 34}, "encoding": {"x": {"field": "g", "type": "nominal"}, "y": {"field": "mean", "type": "quantitative"}}},
    {"data": {"name": "WNT11_st"}, "mark": {"type": "rule", "color": "#e8112d", "strokeWidth": 1.5}, "encoding": {"x": {"field": "g", "type": "nominal"}, "y": {"field": "lo", "type": "quantitative"}, "y2": {"field": "hi"}}},
    {"data": {"name": "WNT11_st"}, "mark": {"type": "tick", "color": "#e8112d", "thickness": 2, "size": 20}, "encoding": {"x": {"field": "g", "type": "nominal"}, "y": {"field": "lo", "type": "quantitative"}}},
    {"data": {"name": "WNT11_st"}, "mark": {"type": "tick", "color": "#e8112d", "thickness": 2, "size": 20}, "encoding": {"x": {"field": "g", "type": "nominal"}, "y": {"field": "hi", "type": "quantitative"}}}
   ]},
  {"width": 140, "height": 144, "title": {"text": "WNT10A", "dx": 12, "offset": -5},
   "layer": [
    {"data": {"values": [{}]}, "mark": {"type": "rule", "color": "black", "strokeWidth": 1, "strokeDash": [1.5, 2.5]}, "encoding": {"y": {"datum": 0}}},
    {"data": {"name": "WNT10A"}, "mark": {"type": "point", "filled": true, "opacity": 1, "color": "black", "size": 75},
     "encoding": {"x": {"field": "g", "type": "nominal", "scale": {"type": "band", "domain": ["non-IC","NHIC","HIC"], "paddingInner": 0, "paddingOuter": 0}, "axis": {"title": null}},
      "xOffset": {"field": "s", "type": "quantitative", "scale": {"domain": [-6, 6]}},
      "y": {"field": "v", "type": "quantitative", "scale": {"domain": [-20, 10], "range": [144, 5], "nice": false, "zero": false}, "axis": {"values": [-20,-15,-10,-5,0,5,10], "tickCount": 20, "labelOverlap": false, "titlePadding": 7, "title": "Log2 (% of GAPDH)"}},
      "shape": {"field": "g", "type": "nominal", "scale": {"domain": ["non-IC","NHIC","HIC"], "range": ["circle","square","triangle-up"]}, "legend": null}}},
    {"data": {"name": "WNT10A_st"}, "mark": {"type": "tick", "color": "#e8112d", "thickness": 2, "size": 34}, "encoding": {"x": {"field": "g", "type": "nominal"}, "y": {"field": "mean", "type": "quantitative"}}},
    {"data": {"name": "WNT10A_st"}, "mark": {"type": "rule", "color": "#e8112d", "strokeWidth": 1.5}, "encoding": {"x": {"field": "g", "type": "nominal"}, "y": {"field": "lo", "type": "quantitative"}, "y2": {"field": "hi"}}},
    {"data": {"name": "WNT10A_st"}, "mark": {"type": "tick", "color": "#e8112d", "thickness": 1.5, "size": 20}, "encoding": {"x": {"field": "g", "type": "nominal"}, "y": {"field": "lo", "type": "quantitative"}}},
    {"data": {"name": "WNT10A_st"}, "mark": {"type": "tick", "color": "#e8112d", "thickness": 1.5, "size": 20}, "encoding": {"x": {"field": "g", "type": "nominal"}, "y": {"field": "hi", "type": "quantitative"}}}
   ]},
  {"width": 137, "height": 140, "title": {"text": "WNT10B", "dx": 8, "offset": -3},
   "layer": [
    {"data": {"values": [{}]}, "mark": {"type": "rule", "color": "black", "strokeWidth": 1, "strokeDash": [1.5, 2.5]}, "encoding": {"y": {"datum": 0}}},
    {"data": {"name": "WNT10B"}, "mark": {"type": "point", "filled": true, "opacity": 1, "color": "black", "size": 75},
     "encoding": {"x": {"field": "g", "type": "nominal", "scale": {"type": "band", "domain": ["non-IC","NHIC","HIC"], "paddingInner": 0, "paddingOuter": 0}, "axis": {"title": null}},
      "xOffset": {"field": "s", "type": "quantitative", "scale": {"domain": [-6, 6]}},
      "y": {"field": "v", "type": "quantitative", "scale": {"domain": [-15, 5], "range": [140, 2], "nice": false, "zero": false}, "axis": {"values": [-15,-10,-5,0,5], "tickCount": 20, "labelOverlap": false, "title": "Log2 (%  of GAPDH)", "titlePadding": 12}},
      "shape": {"field": "g", "type": "nominal", "scale": {"domain": ["non-IC","NHIC","HIC"], "range": ["circle","square","triangle-up"]}, "legend": null}}},
    {"data": {"name": "WNT10B_st"}, "mark": {"type": "tick", "color": "#e8112d", "thickness": 2, "size": 34}, "encoding": {"x": {"field": "g", "type": "nominal"}, "y": {"field": "mean", "type": "quantitative"}}},
    {"data": {"name": "WNT10B_st"}, "mark": {"type": "rule", "color": "#e8112d", "strokeWidth": 1.5}, "encoding": {"x": {"field": "g", "type": "nominal"}, "y": {"field": "lo", "type": "quantitative"}, "y2": {"field": "hi"}}},
    {"data": {"name": "WNT10B_st"}, "mark": {"type": "tick", "color": "#e8112d", "thickness": 1.5, "size": 20}, "encoding": {"x": {"field": "g", "type": "nominal"}, "y": {"field": "lo", "type": "quantitative"}}},
    {"data": {"name": "WNT10B_st"}, "mark": {"type": "tick", "color": "#e8112d", "thickness": 1.5, "size": 20}, "encoding": {"x": {"field": "g", "type": "nominal"}, "y": {"field": "hi", "type": "quantitative"}}}
   ]}
 ]}
]
}
